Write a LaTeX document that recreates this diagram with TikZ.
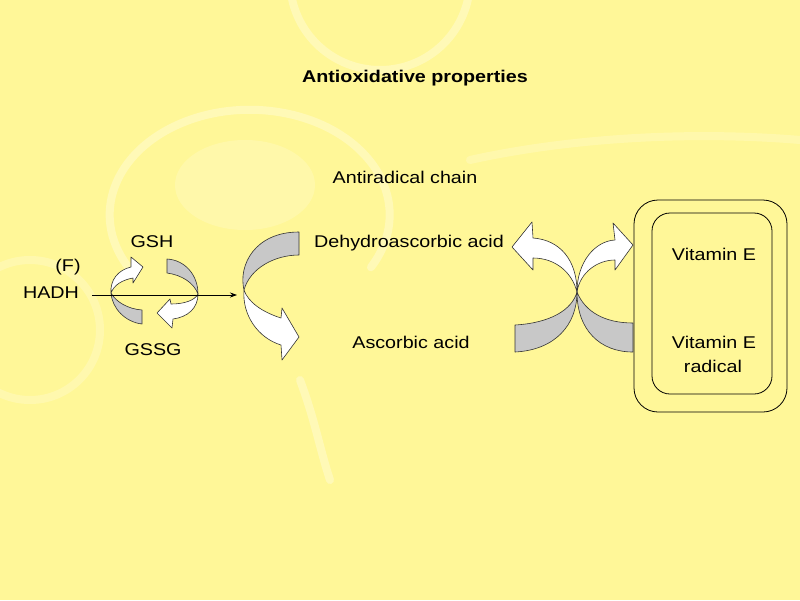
\documentclass[tikz,border=0pt]{standalone}
\usepackage{fontspec}
\setmainfont{Liberation Sans}[FakeStretch=1.16]
\usetikzlibrary{arrows.meta}
\definecolor{bgy}{RGB}{255,247,152}
\definecolor{rib}{RGB}{200,200,200}
\begin{document}
\begin{tikzpicture}[x=1pt,y=-1pt,
  lbl/.style={font=\fontsize{17}{20}\selectfont, inner sep=0pt, anchor=base},
  ttl/.style={font=\fontsize{17}{20}\selectfont\bfseries, inner sep=0pt, anchor=base},
  gr/.style={fill=rib, draw=black!80, line width=0.6pt, line join=round},
  wh/.style={fill=white, draw=black!80, line width=0.6pt, line join=round},
  box/.style={draw=black, line width=0.8pt},
  swirl/.style={draw=white, opacity=0.3, line width=8pt, line cap=round}]
\fill[bgy] (0,0) rectangle (800,600);
\useasboundingbox (0,0) rectangle (800,600);
% faint background swirls
\begin{scope}
\clip (0,0) rectangle (800,600);
\draw[swirl] (380,-20) circle (90);
\draw[swirl] (135,275) arc (145:390:140 and 105);
\fill[white, opacity=0.18] (245,185) ellipse (70 and 45);
\draw[swirl] (300,380) .. controls (315,420) and (320,450) .. (330,480);
\draw[swirl, opacity=0.22] (30,330) circle (70);
\draw[swirl, opacity=0.2] (470,160) .. controls (560,140) and (680,130) .. (800,140);
\end{scope}
% texts
\node[ttl] (title) at (415,82) {Antioxidative properties};
\node[lbl] (chain) at (405,183) {Antiradical chain};
\node[lbl] (dha) at (409,247) {Dehydroascorbic acid};
\node[lbl] (asc) at (411,348) {Ascorbic acid};
\node[lbl] (gsh) at (152,247) {GSH};
\node[lbl] (f) at (68,271) {(F)};
\node[lbl] (hadh) at (51,298) {HADH};
\node[lbl] (gssg) at (153,355) {GSSG};
\node[lbl] (ve) at (714,260) {Vitamin E};
\node[lbl] (ver) at (714,348) {Vitamin E};
\node[lbl] (rad) at (713,372) {radical};
% vitamin E boxes
\draw[box, rounded corners=24pt] (634,200) rectangle (787,412);
\draw[box, rounded corners=18pt] (652,213) rectangle (772,394);
% small cycle, left ribbon
\draw[gr] (111,293) .. controls (112,308) and (125,322) .. (142,324) -- (142,310) .. controls (128,309) and (116,302) .. (111,293) -- cycle;
\draw[wh] (111,293) .. controls (110,280) and (118,270) .. (131,267) -- (131,257) -- (143,267) -- (133,283) -- (133,278) .. controls (122,280) and (114,285) .. (111,293) -- cycle;
% small cycle, right ribbon
\draw[gr] (167,259) .. controls (185,260) and (198,275) .. (198,294) .. controls (194,283) and (182,275) .. (167,273) -- cycle;
\draw[wh] (198,294) .. controls (198,308) and (188,317) .. (173,319) -- (172,328) -- (157,313) -- (170,299) -- (171,304) .. controls (185,304) and (195,300) .. (198,294) -- cycle;
% big middle ribbon
\draw[gr] (299,232) -- (299,255) .. controls (275,255) and (250,268) .. (244,290) .. controls (238,265) and (255,232) .. (299,232) -- cycle;
\draw[wh] (244,290) .. controls (242,315) and (258,338) .. (281,345) -- (282,360) -- (299,337) -- (282,308) -- (281,318) .. controls (262,312) and (248,302) .. (244,290) -- cycle;
% crossing ribbons
\draw[gr] (515,325) .. controls (550,323) and (572,310) .. (577,292) .. controls (577,325) and (555,350) .. (515,352) -- cycle;
\draw[gr] (577,292) .. controls (585,312) and (605,323) .. (633,323) -- (633,352) .. controls (600,352) and (577,330) .. (577,292) -- cycle;
\draw[wh] (577,292) .. controls (577,260) and (560,240) .. (533,238) -- (532,222) -- (512,247) -- (533,270) -- (533,258) .. controls (555,258) and (572,272) .. (577,292) -- cycle;
\draw[wh] (577,292) .. controls (577,262) and (595,241) .. (615,240) -- (613,223) -- (633,245) -- (615,270) -- (615,260) .. controls (598,260) and (580,272) .. (577,292) -- cycle;
% HADH arrow
\coordinate (hs) at (92,295);
\coordinate (he) at (237,295);
\draw[-{Stealth[length=7pt,width=5pt]}, line width=0.7pt] (hs) -- (he);
\end{tikzpicture}
\end{document}
